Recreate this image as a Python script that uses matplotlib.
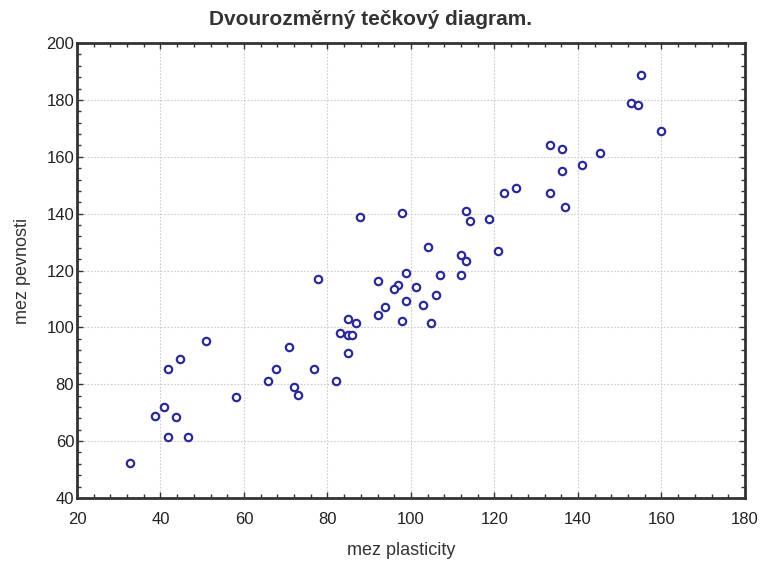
import matplotlib
matplotlib.use("Agg")
import matplotlib.pyplot as plt
from matplotlib.ticker import MultipleLocator

plt.rcParams['font.family'] = ['Liberation Sans', 'DejaVu Sans']

mez_plasticity = [32.6, 38.8, 40.8, 41.7, 43.6, 46.5, 41.7, 44.6, 50.8, 58.0,
                  65.7, 67.6, 70.9, 71.9, 72.9, 76.7, 82.0, 82.9,
                  87.7, 97.8, 113.1, 114.1, 118.8, 120.8, 104.0, 112.1, 113.1, 112.1,
                  106.9, 98.7, 92.0, 77.7, 96.8, 95.9, 101.1, 105.9, 98.7, 103.0,
                  93.9, 92.0, 97.8, 104.9, 84.8, 86.8, 84.8, 85.8, 84.8,
                  155.2, 152.8, 154.4, 160.0, 133.2, 136.1, 145.2, 140.9, 136.1,
                  125.1, 122.2, 133.2, 137.0]
mez_pevnosti = [52.2, 68.9, 71.9, 61.3, 68.4, 61.3, 85.3, 88.8, 95.1, 75.4,
                81.0, 85.3, 93.0, 78.9, 76.1, 85.3, 81.0, 97.9,
                138.7, 140.1, 140.8, 137.3, 138.0, 126.7, 128.2, 125.3, 123.2, 118.3,
                118.3, 119.0, 116.2, 116.9, 114.8, 113.4, 114.1, 111.3, 109.2, 107.8,
                107.1, 104.2, 102.1, 101.4, 102.8, 101.4, 97.2, 97.2, 90.9,
                188.6, 178.8, 178.1, 168.9, 164.0, 162.6, 161.2, 157.0, 154.9,
                149.2, 147.1, 147.1, 142.2]

fig = plt.figure(figsize=(7.66, 5.63), dpi=100)
ax = fig.add_axes([0.1005, 0.1155, 0.872, 0.808])

ax.scatter(mez_plasticity, mez_pevnosti, s=28, facecolors='white',
           edgecolors='#2b2b98', linewidths=1.6, zorder=3)

ax.set_xlim(20, 180)
ax.set_ylim(40, 200)
ax.xaxis.set_major_locator(MultipleLocator(20))
ax.yaxis.set_major_locator(MultipleLocator(20))
ax.xaxis.set_minor_locator(MultipleLocator(4))
ax.yaxis.set_minor_locator(MultipleLocator(4))
ax.tick_params(which='both', direction='in', top=True, right=True, colors='#333333',
               labelcolor='#222222', labelsize=12, width=1.0)
ax.tick_params(which='major', length=4)
ax.tick_params(which='minor', length=3)
ax.tick_params(axis='x', pad=10)
ax.tick_params(axis='y', pad=2)
for sp in ax.spines.values():
    sp.set_linewidth(2.0)
    sp.set_color('#333333')

ax.grid(True, which='major', linestyle=(0, (1.5, 1.5)), color='#cccccc', linewidth=0.8)
ax.set_axisbelow(True)

ax.set_title('Dvourozměrný tečkový diagram.', fontsize=15, fontweight='bold',
             color='#333333', pad=13, x=0.439)
ax.set_xlabel('mez plasticity', fontsize=13, color='#333333', labelpad=11, x=0.485)
ax.set_ylabel('mez pevnosti', fontsize=13, color='#333333', labelpad=11)

fig.savefig('out.png', dpi=100)
